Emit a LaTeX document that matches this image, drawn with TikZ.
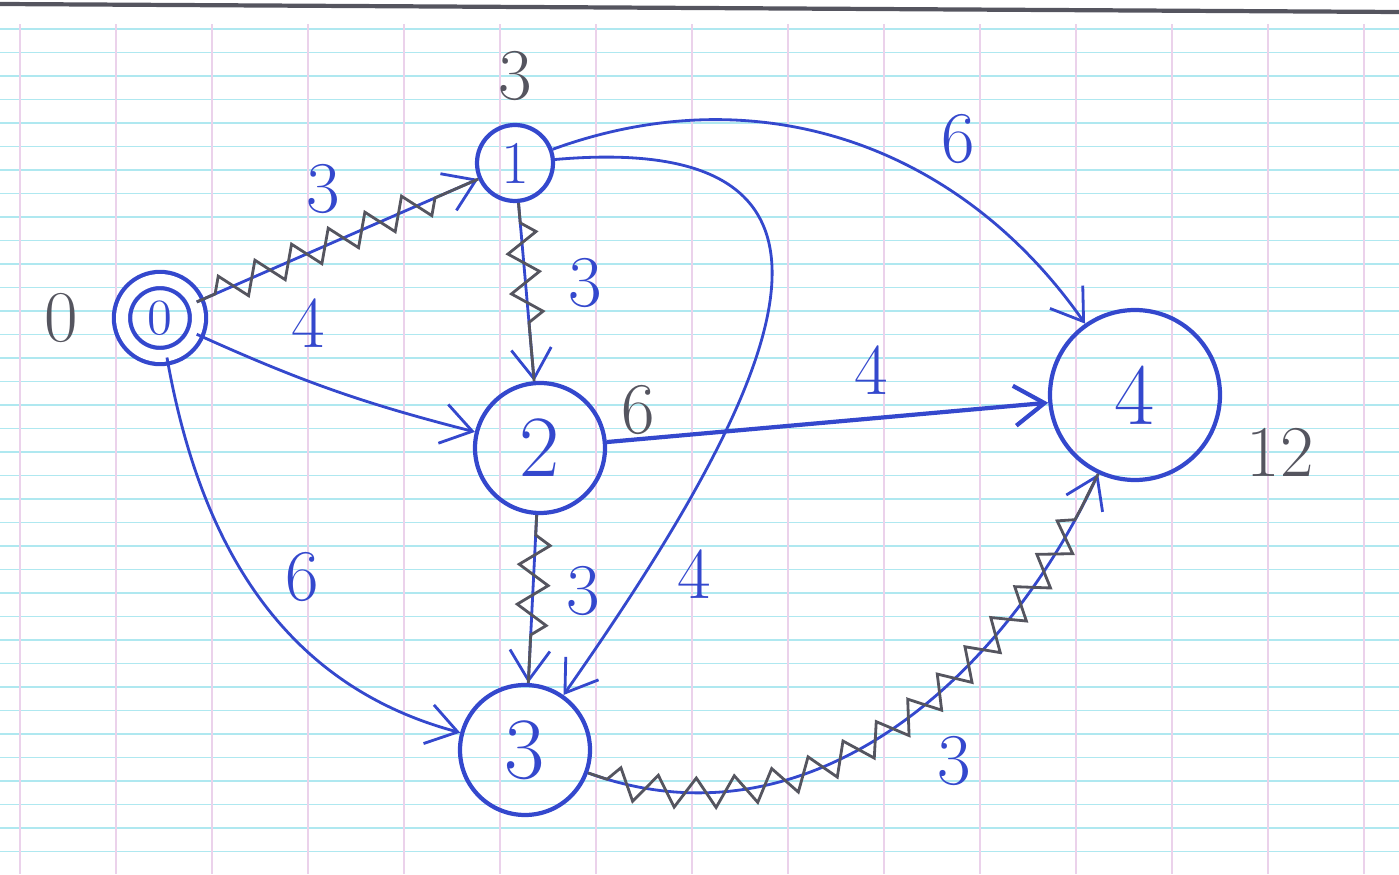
\documentclass[tikz,border=0pt]{standalone}
\usepackage{tikz}
\usetikzlibrary{arrows.meta,decorations.pathmorphing}
\definecolor{inkblue}{RGB}{52,72,205}
\definecolor{pencil}{RGB}{85,85,95}
\definecolor{ruleline}{RGB}{175,232,240}
\definecolor{marginline}{RGB}{235,210,235}

\tikzset{
  state/.style={circle, draw=inkblue, very thick, inner sep=0pt, font=\Huge, text=inkblue},
  edge/.style={draw=inkblue, thick, -{Straight Barb[length=3mm,width=4mm]}},
  crit/.style={postaction={draw=pencil, thick, -, decorate,
      decoration={zigzag, segment length=4mm, amplitude=1.5mm, pre length=2mm, post length=4mm}}},
  weight/.style={font=\huge, text=inkblue},
  date/.style={font=\huge, text=pencil}
}

\begin{document}
\begin{tikzpicture}
    \useasboundingbox (0,0) rectangle (13.99,8.74);

    % Paper
    \foreach \i in {0,...,35} {
        \draw[ruleline, line width=0.5pt] (0,8.45-\i*0.235) -- (13.99,8.45-\i*0.235);
    }
    \foreach \x in {0.2,1.16,...,13.9} {
        \draw[marginline, line width=0.4pt] (\x,0) -- (\x,8.5);
    }
    \draw[pencil, line width=1.2pt] (0,8.70) -- (13.99,8.62);

    % States
    \node[state, double, double distance=1.2mm, minimum size=7.6mm, font=\Large] (n0) at (1.60,5.56) {0};
    \node[state, minimum size=7.6mm, font=\LARGE] (n1) at (5.15,7.11) {1};
    \node[state, minimum size=13mm] (n2) at (5.40,4.26) {2};
    \node[state, minimum size=13mm] (n3) at (5.25,1.24) {3};
    \node[state, minimum size=17mm] (n4) at (11.35,4.79) {4};

    % Dates
    \node[date, left=3mm] at (n0.west) {0};
    \node[date, above=1mm] at (n1.north) {3};
    \node[date] at (6.38,4.64) {6};
    \node[date] at (12.80,4.22) {12};

    % Arcs
    \draw[edge, crit] (n0) -- (n1) node[weight, pos=0.45, above=2mm] {3};
    \draw[edge] (n0) to[bend right=5] node[weight, pos=0.4, above=2mm] {4} (n2);
    \draw[edge] (n0) to[out=-80, in=165] node[weight, pos=0.55, above right] {6} (n3);
    \draw[edge, crit] (n1) -- (n2) node[weight, pos=0.45, right=3mm] {3};
    \draw[edge] (n1) to[out=5, in=55, looseness=1.7] node[weight, pos=0.86, right=2mm] {4} (n3);
    \draw[edge] (n1) to[out=20, in=125] node[weight, pos=0.65, above right] {6} (n4);
    \draw[edge, very thick] (n2) -- (n4) node[weight, pos=0.6, above=1mm] {4};
    \draw[edge, crit] (n2) -- (n3) node[weight, pos=0.45, right=2mm] {3};
    \draw[edge, crit] (n3) to[out=-20, in=-115] node[weight, pos=0.55, below right=1mm] {3} (n4);
\end{tikzpicture}
\end{document}
